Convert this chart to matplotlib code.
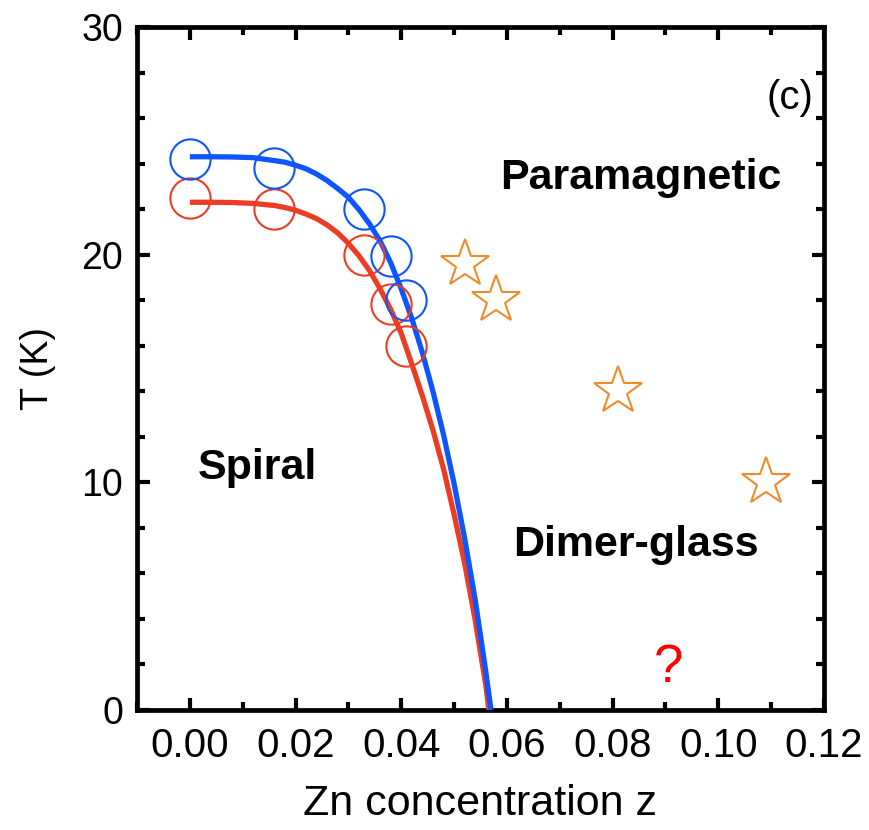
import matplotlib
matplotlib.use("Agg")
import matplotlib.pyplot as plt
from matplotlib.ticker import MultipleLocator

plt.rcParams['font.family'] = ['Liberation Sans', 'DejaVu Sans']

# Transition temperatures (circles)
blue_z = [0.000, 0.016, 0.033, 0.038, 0.041]
blue_T = [24.2, 23.8, 22.0, 19.95, 18.0]
red_z = [0.000, 0.016, 0.033, 0.038, 0.041]
red_T = [22.5, 22.0, 20.0, 17.85, 16.0]

# Dimer-glass freezing points (stars)
star_z = [0.052, 0.058, 0.081, 0.109]
star_T = [19.6, 18.0, 14.0, 10.0]

# Phase boundary curves
blue_curve_z = [0.000, 0.004, 0.008, 0.012, 0.016, 0.018, 0.020, 0.022,
                0.024, 0.026, 0.028, 0.030, 0.032, 0.034, 0.036, 0.038,
                0.040, 0.042, 0.044, 0.046, 0.048, 0.050, 0.052, 0.054,
                0.056, 0.057]
blue_curve_T = [24.3, 24.3, 24.29, 24.26, 24.13, 24.06, 23.93, 23.77,
                23.54, 23.25, 22.9, 22.52, 21.98, 21.35, 20.6, 19.65,
                18.5, 17.2, 15.7, 14.0, 12.1, 9.95, 7.55, 4.85,
                1.7, 0.0]
red_curve_z = [0.000, 0.004, 0.008, 0.012, 0.016, 0.018, 0.020, 0.022,
               0.024, 0.026, 0.028, 0.030, 0.032, 0.034, 0.036, 0.038,
               0.040, 0.042, 0.044, 0.046, 0.048, 0.050, 0.052, 0.054,
               0.056, 0.0566]
red_curve_T = [22.3, 22.3, 22.29, 22.25, 22.16, 22.07, 21.95, 21.78,
               21.58, 21.3, 20.95, 20.5, 19.95, 19.3, 18.5, 17.6,
               16.55, 15.2, 13.8, 12.3, 10.6, 8.6, 6.45, 3.95,
               1.1, 0.0]

x_ticks = [0.00, 0.02, 0.04, 0.06, 0.08, 0.10, 0.12]
x_tick_labels = ["0.00", "0.02", "0.04", "0.06", "0.08", "0.10", "0.12"]
y_ticks = [0, 10, 20, 30]

BLUE = "#0f55ff"
RED = "#ec3d24"
ORANGE = "#f08a2c"

fig = plt.figure(figsize=(8.7, 8.3), dpi=100)
ax = fig.add_axes([0.1575, 0.1446, 0.7895, 0.8229])

ax.plot(red_curve_z, red_curve_T, color=RED, lw=3.8, solid_capstyle="butt",
        solid_joinstyle="round", zorder=3)
ax.plot(blue_curve_z, blue_curve_T, color=BLUE, lw=3.8, solid_capstyle="butt",
        solid_joinstyle="round", zorder=4)

ax.plot(red_z, red_T, ls="none", marker="o", ms=29, mfc="none",
        mec=RED, mew=1.5, zorder=5)
ax.plot(blue_z, blue_T, ls="none", marker="o", ms=29, mfc="none",
        mec=BLUE, mew=1.5, zorder=6)
ax.plot(star_z, star_T, ls="none", marker="*", ms=36, mfc="none",
        mec=ORANGE, mew=1.5, zorder=5)

ax.set_xlim(-0.01, 0.12)
ax.set_ylim(0, 30)
ax.set_xticks(x_ticks)
ax.set_xticklabels(x_tick_labels)
ax.set_yticks(y_ticks)
ax.xaxis.set_minor_locator(MultipleLocator(0.01))
ax.yaxis.set_minor_locator(MultipleLocator(2))

ax.tick_params(which="both", direction="in", top=True, right=True,
               width=3, colors="black")
ax.tick_params(axis="x", labelsize=29, pad=12)
ax.tick_params(axis="y", labelsize=27, pad=10)
ax.tick_params(which="major", length=9)
ax.tick_params(which="minor", length=6)
for s in ax.spines.values():
    s.set_linewidth(3.4)

ax.set_xlabel("Zn concentration z", fontsize=31, labelpad=14)
ax.set_ylabel("T (K)", fontsize=27, labelpad=18)

ax.text(0.0853, 23.36, "Paramagnetic", fontsize=31, fontweight="bold",
        ha="center", va="center")
ax.text(0.0128, 10.63, "Spiral", fontsize=31, fontweight="bold",
        ha="center", va="center")
ax.text(0.0845, 7.25, "Dimer-glass", fontsize=31, fontweight="bold",
        ha="center", va="center")
ax.text(0.1136, 26.9, "(c)", fontsize=29, ha="center", va="center")
ax.text(0.0906, 1.85, "?", fontsize=38, color="#ff0000", ha="center", va="center")

fig.savefig("out.png", dpi=100)
